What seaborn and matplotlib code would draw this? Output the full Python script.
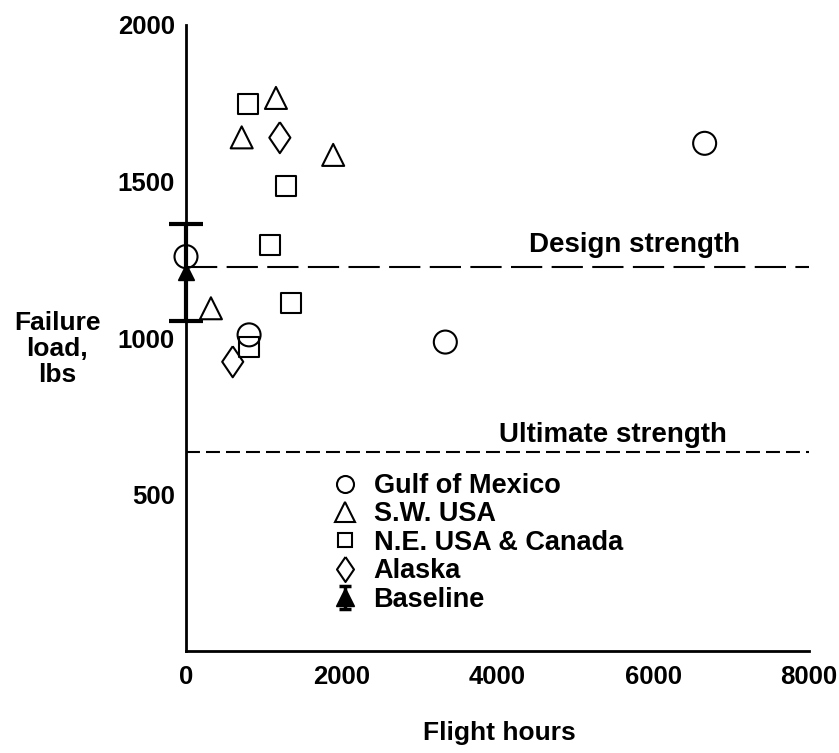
import numpy as np
import pandas as pd
import seaborn as sns
import matplotlib
matplotlib.use("Agg")
import matplotlib.pyplot as plt
from matplotlib.lines import Line2D
from matplotlib.legend_handler import HandlerErrorbar

# ---- data ----
gulf_x = [0, 810, 3330, 6660]
gulf_y = [1260, 1010, 987, 1622]
sw_x = [715, 1155, 1890, 320]
sw_y = [1641, 1767, 1585, 1095]
ne_x = [795, 1285, 1080, 1345, 815]
ne_y = [1748, 1487, 1297, 1113, 972]
ak_x = [1205, 600]
ak_y = [1640, 924]
base_x = [0]
base_y = [1210]
base_err = [155]
design_strength = 1227
ultimate_strength = 636
x_ticks = [0, 2000, 4000, 6000, 8000]
y_ticks = [500, 1000, 1500, 2000]
legend_labels = ["Gulf of Mexico", "S.W. USA", "N.E. USA & Canada", "Alaska", "Baseline"]

sns.set_theme(style="white")
plt.rcParams["font.family"] = ["Liberation Sans", "DejaVu Sans"]
plt.rcParams["font.weight"] = "bold"
for k in ["text.color", "axes.labelcolor", "xtick.color", "ytick.color", "axes.edgecolor"]:
    plt.rcParams[k] = "black"

W, H = 839, 753
fig = plt.figure(figsize=(W / 100, H / 100), dpi=100)
ax = fig.add_axes([186 / W, 1 - 651 / H, (809 - 186) / W, (651 - 25) / H])

diamond = [(0, 1), (0.68, 0), (0, -1), (-0.68, 0), (0, 1)]
PX = 1 / 1.389  # px -> pt

groups = [
    (gulf_x, gulf_y, "o", 23 * PX),
    (sw_x, sw_y, "^", 22 * PX),
    (ne_x, ne_y, "s", 20 * PX),
    (ak_x, ak_y, diamond, 31 * PX),
]
for gx, gy, mk, ms in groups:
    df = pd.DataFrame({"x": gx, "y": gy})
    sns.scatterplot(data=df, x="x", y="y", marker=mk, s=ms ** 2, ax=ax,
                    color="black", facecolor="none", edgecolor="black",
                    linewidth=1.5, clip_on=False, zorder=3)

eb = ax.errorbar(base_x, base_y, yerr=base_err, fmt="^", color="black",
                 ms=11, capsize=12, capthick=3, elinewidth=3, zorder=4)
for art in eb.get_children():
    art.set_clip_on(False)

# legend-only handle for the baseline (smaller caps, like the reference key)
eb_leg = ax.errorbar([np.nan], [np.nan], yerr=[1], fmt="^", color="black",
                     ms=13, capsize=4, capthick=2.5, elinewidth=2.5)

ax.axhline(design_strength, color="black", lw=1.5, ls=(0, (15, 4.5)), zorder=1)
ax.axhline(ultimate_strength, color="black", lw=1.5, ls=(0, (6.7, 2.9)), zorder=1)
ax.text(7112, 1255, "Design strength", ha="right", va="bottom",
        fontsize=20, fontweight="bold")
ax.text(6945, 650, "Ultimate strength", ha="right", va="bottom",
        fontsize=20, fontweight="bold")

ax.set_xlim(0, 8000)
ax.set_ylim(0, 2000)
ax.set_xticks(x_ticks)
ax.set_yticks(y_ticks)
ax.set_xticklabels([str(v) for v in x_ticks], fontsize=18.5, fontweight="bold")
ax.set_yticklabels([str(v) for v in y_ticks], fontsize=18.5, fontweight="bold")
ax.tick_params(axis="both", direction="in", length=19, width=1.2, colors="black")
ax.tick_params(axis="y", pad=8)
ax.tick_params(axis="x", pad=10)
for side in ["top", "right"]:
    ax.spines[side].set_visible(False)
for side in ["left", "bottom"]:
    ax.spines[side].set_linewidth(2)
    ax.spines[side].set_color("black")
ax.set_xlabel("")
ax.set_ylabel("")

fig.text(57 / W, 1 - 349 / H, "Failure\nload,\nlbs", ha="center", va="center",
         fontsize=19, fontweight="bold", linespacing=1.13)
fig.text(499 / W, 1 - 733 / H, "Flight hours", ha="center", va="center",
         fontsize=19, fontweight="bold")

handles = [
    Line2D([], [], ls="none", marker="o", mfc="none", mec="black", ms=17 * PX, mew=1.5),
    Line2D([], [], ls="none", marker="^", mfc="none", mec="black", ms=20 * PX, mew=1.5),
    Line2D([], [], ls="none", marker="s", mfc="none", mec="black", ms=15 * PX, mew=1.5),
    Line2D([], [], ls="none", marker=diamond, mfc="none", mec="black", ms=25 * PX, mew=1.5),
    eb_leg,
]
ax.legend(handles, legend_labels, loc="upper left",
          bbox_to_anchor=(334 / W, 1 - 473 / H), bbox_transform=fig.transFigure,
          frameon=False, prop={"size": 19.5, "weight": "bold"},
          borderpad=0, borderaxespad=0, labelspacing=0.09,
          handlelength=0.8, handletextpad=0.66,
          handler_map={type(eb_leg): HandlerErrorbar(yerr_size=0.42)})

fig.savefig("out.png", dpi=100, facecolor="white")
